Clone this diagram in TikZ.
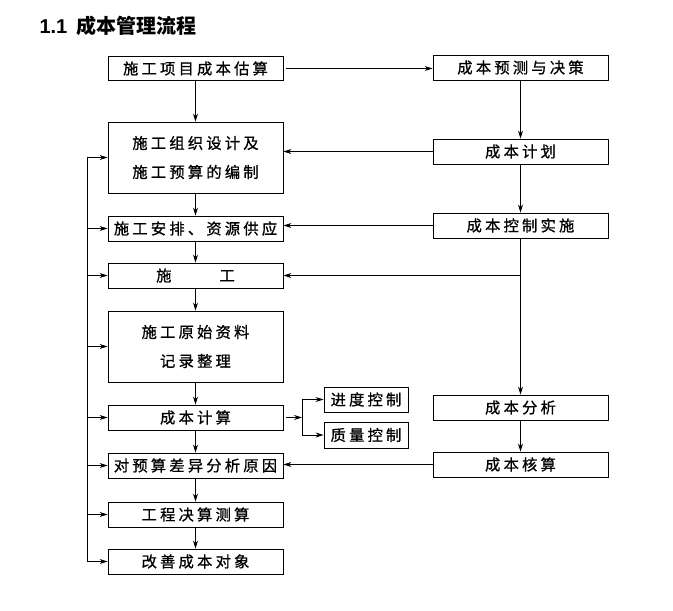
\documentclass[tikz,border=0pt]{standalone}
\usepackage{fontspec}
\setmainfont{Liberation Sans}
\newfontfamily\cjk{Noto Sans CJK SC}
\newfontfamily\cjkm[FakeBold=0.8]{Noto Sans CJK SC}
\usetikzlibrary{arrows.meta}
\def\spacedaux#1{\ifx#1\relax\else#1\hskip3.2pt\relax\expandafter\spacedaux\fi}
\newcommand\spaced[1]{\spacedaux#1\relax\unskip}
\begin{document}
\begin{tikzpicture}[x=1pt,y=-1pt,
  box/.style={draw, line width=0.9pt, minimum width=175pt, minimum height=25pt, inner sep=0pt,
    font=\cjkm\fontsize{15.3}{29}\selectfont, align=center},
  sbox/.style={box, minimum width=84pt},
  arr/.style={-{Stealth[length=8pt,width=5pt]}, line width=0.8pt},
  ln/.style={line width=0.8pt}]
\useasboundingbox (0,0) rectangle (673,611);
\node[anchor=base west, font=\bfseries\fontsize{20}{24}\selectfont] (T) at (36,33) {1.1\hspace{9pt}{\cjk 成本管理流程}};
% left column
\node[box, minimum height=24pt] (B1) at (195.5,68.5) {\spaced{施工项目成本估算}};
\node[box, minimum height=71pt] (B2) at (195.5,157.5) {\spaced{施工组织设计及}\\\spaced{施工预算的编制}};
\node[box] (B3) at (195.5,228.5) {\spaced{施工安排、资源供应}};
\node[box] (B4) at (195.5,275.5) {施\hspace{48pt}工};
\node[box, minimum height=71pt] (B5) at (195.5,346.5) {\spaced{施工原始资料}\\\spaced{记录整理}};
\node[box] (B6) at (195.5,417.5) {\spaced{成本计算}};
\node[box] (B7) at (195.5,465.5) {\spaced{对预算差异分析原因}};
\node[box] (B8) at (195.5,514.5) {\spaced{工程决算测算}};
\node[box] (B9) at (195.5,561.5) {\spaced{改善成本对象}};
% right column
\node[box] (R1) at (520.5,67.5) {\spaced{成本预测与决策}};
\node[box] (R2) at (520.5,151.5) {\spaced{成本计划}};
\node[box] (R3) at (520.5,225.5) {\spaced{成本控制实施}};
\node[box] (R4) at (520.5,407.5) {\spaced{成本分析}};
\node[box] (R5) at (520.5,464.5) {\spaced{成本核算}};
% small boxes
\node[sbox] (S1) at (366,399.5) {\spaced{进度控制}};
\node[sbox, minimum height=26pt] (S2) at (366,435) {\spaced{质量控制}};
% left column arrows
\foreach \a/\b in {B1/B2,B2/B3,B3/B4,B4/B5,B5/B6,B6/B7,B7/B8,B8/B9}
  \draw[arr] (\a.south) -- (\b.north);
% right column arrows
\draw[arr] (R1.south) -- (R2.north);
\draw[arr] (R2.south) -- (R3.north);
\draw[arr] (R3.south) -- (R4.north);
\draw[arr] (R4.south) -- (R5.north);
% cross arrows
\draw[arr, shorten <=3pt] (B1.east) -- (R1.west |- B1.east);
\draw[arr] (R2.west) -- (R2.west -| B2.east);
\draw[arr] (R3.west) -- (R3.west -| B3.east);
\coordinate (BR) at (R3.south |- B4.east);
\draw[arr] (BR) -- (B4.east);
\draw[arr] (R5.west) -- (R5.west -| B7.east);
% fork to small boxes
\coordinate (F) at (302,417.5);
\draw[arr, shorten <=3pt] (B6.east) -- (F);
\draw[arr] (F) |- (S1.west);
\draw[arr] (F) |- (S2.west);
% feedback line on the left
\coordinate (L) at (87,0);
\draw[ln] (L |- B2.west) -- (L |- B9.west);
\foreach \b in {B2,B3,B4,B5,B6,B7,B8,B9}
  \draw[arr] (L |- \b.west) -- (\b.west);
\end{tikzpicture}
\end{document}
